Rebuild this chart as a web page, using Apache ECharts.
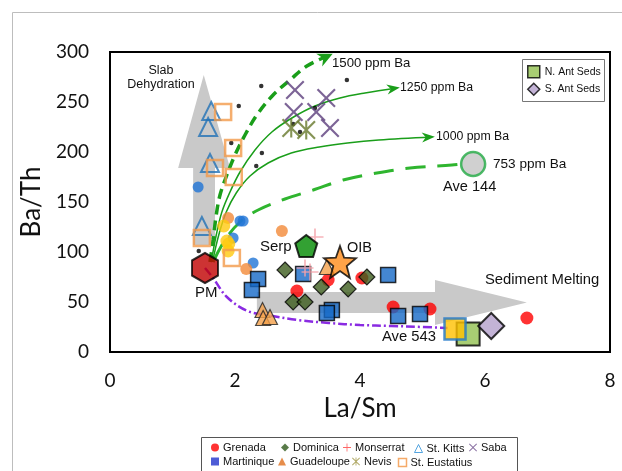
<!DOCTYPE html>
<html><head><meta charset="utf-8">
<script src="https://cdn.jsdelivr.net/npm/echarts@6/dist/echarts.min.js"></script>
<style>html,body{margin:0;padding:0;background:#fff}#c{width:622px;height:471px}</style>
</head><body><div id="c"></div>
<script>
// ---------- tick labels ----------
const xTicks = [0, 2, 4, 6, 8];
const yTicks = [0, 50, 100, 150, 200, 250, 300];

// ---------- island data [La/Sm, Ba/Th] ----------
const grenada     = [[2.99,61],[3.49,72],[4.03,74],[4.53,45],[5.12,43],[6.67,34]];
const dominica    = [[2.80,82],[3.38,65],[3.81,63],[2.93,50],[3.12,50],[4.11,75]];
const monserrat   = [[3.28,115],[3.12,84],[3.20,80]];
const stKitts     = [[1.62,241],[1.57,225],[1.60,189],[1.47,126]];
const saba        = [[2.96,262],[3.46,254],[2.94,240],[3.30,240],[3.52,224]];
const nevis       = [[2.90,224],[3.14,222]];
const martinique  = [[2.37,73],[2.27,62],[3.09,78],[3.55,42],[3.47,39],[4.45,77],[4.61,36],[4.96,38]];
const guadeloupe  = [[2.44,42],[2.45,34],[2.56,35],[3.47,85]];
const stEustatius = [[1.81,240],[1.97,204],[1.68,184],[1.98,175],[1.47,114],[1.95,94]];
const blackDots   = [[2.42,266],[2.06,246],[3.79,272],[1.94,209],[2.43,199],[2.34,186],[3.28,244],[2.93,228],[3.04,220],[1.42,101]];
const blueDots    = [[1.41,165],[2.08,131],[2.13,131],[1.97,114],[2.29,89]];
const orangeDots  = [[1.89,134],[2.75,121],[2.18,83]];
const yellowDots  = [[1.82,126],[1.87,111],[1.90,108],[1.89,101]];

// ---------- end members ----------
const pm      = [[1.52,84]];
const serp    = [[3.14,106]];
const oib     = [[3.68,90]];
const ave144  = [[5.81,188]];
const ave543  = [[5.52,23]];
const nAntSeds= [[5.73,18]];
const sAntSeds= [[6.10,26]];

// ---------- mixing curves ----------
const curve1500 = [[1.60,90],[1.65,112],[1.70,137],[1.76,157],[1.87,177],[2.00,197],[2.16,217],[2.35,237],[2.61,257],[2.88,272],[3.15,286],[3.52,297]];
const curve1250 = [[1.62,90],[1.70,117],[1.79,140],[1.92,160],[2.08,180],[2.32,202],[2.59,220],[2.91,234],[3.28,246],[3.68,254],[4.08,259],[4.59,264]];
const curve1000 = [[1.64,90],[1.74,117],[1.86,140],[2.02,159],[2.24,176],[2.53,189],[2.90,199],[3.35,205],[3.80,209],[4.30,212],[5.15,215]];
const curve753  = [[1.65,90],[1.84,112],[2.08,130],[2.37,142],[2.80,153],[3.25,162],[3.73,172],[4.27,179],[4.80,184],[5.47,187],[5.62,188]];
const curveSed  = [[1.52,84],[1.65,74],[1.87,55],[2.20,41],[2.60,36],[3.00,32],[3.50,29],[4.00,27],[4.50,26],[5.00,25],[5.40,24]];

// ---------- broad gray process arrows (data units) ----------
const slabArrow = [[1.33,107],[1.68,107],[1.68,184],[1.92,184],[1.50,277],[1.09,184],[1.33,184]];
const sedArrow  = [[2.35,60],[5.20,60],[5.20,72],[6.67,49.5],[5.20,27],[5.20,39],[2.35,39]];

// ---------- symbols ----------
const plusPath  = 'path://M4.5,0H5.5V4.5H10V5.5H5.5V10H4.5V5.5H0V4.5H4.5Z';
const crossPath = 'path://M0,0.8L0.8,0L5,4.2L9.2,0L10,0.8L5.8,5L10,9.2L9.2,10L5,5.8L0.8,10L0,9.2L4.2,5Z';
const starAstPath = 'path://M0,0.8L0.8,0L5,4.2L9.2,0L10,0.8L5.8,5L10,9.2L9.2,10L5,5.8L0.8,10L0,9.2L4.2,5Z M4.45,0H5.55V10H4.45Z';
const hexPath   = 'path://M5,0L9.33,2.5L9.33,7.5L5,10L0.67,7.5L0.67,2.5Z';
const pentPath  = 'path://M5,0L10,3.8L8.1,10L1.9,10L0,3.8Z';
function starPath(){let s='path://';for(let i=0;i<10;i++){const r=i%2?2.1:5;const a=-Math.PI/2+i*Math.PI/5;s+=(i?'L':'M')+(5+r*Math.cos(a)).toFixed(3)+','+(5+r*Math.sin(a)).toFixed(3);}return s+'Z';}

const chart = echarts.init(document.getElementById('c'));

function sc(name, data, symbol, size, style, z){
  return {name, type:'scatter', data, symbol, symbolSize:size, itemStyle:style, z:z||5, silent:true};
}
function curve(data, color, width, type, z){
  return {type:'line', data, smooth:0.35, showSymbol:false, symbol:'none', lineStyle:{color, width, type, cap:'butt'}, z:z||3, silent:true};
}

const arrowHeads = [
  {c:curve1500, color:'#1a9e1a', L:15, W:7},
  {c:curve1250, color:'#1a9e1a', L:13, W:5},
  {c:curve1000, color:'#1a9e1a', L:13, W:5}
];

const txt = (x,y,t,fs,align)=>({type:'text', x, y, style:{text:t, font:`${fs}px "Liberation Sans", Arial, sans-serif`, fill:'#111', align:align||'left', verticalAlign:'middle'}, z:50});

const option = {
  animation:false,
  backgroundColor:'#fff',
  grid:{left:110, top:52, width:500, height:300, show:true, borderColor:'#000', borderWidth:2},
  xAxis:{type:'value', min:xTicks[0], max:xTicks[xTicks.length-1], interval:xTicks[1]-xTicks[0],
    axisLine:{show:true, onZero:false, lineStyle:{color:'#000', width:2}}, axisTick:{show:false}, splitLine:{show:false},
    axisLabel:{fontFamily:'Lato', fontSize:19, color:'#111', margin:19},
    name:'La/Sm', nameLocation:'middle', nameGap:44, nameTextStyle:{fontFamily:'Lato', fontSize:26, color:'#111'}},
  yAxis:{type:'value', min:yTicks[0], max:yTicks[yTicks.length-1], interval:yTicks[1]-yTicks[0],
    axisLine:{show:true, onZero:false, lineStyle:{color:'#000', width:2}}, axisTick:{show:false}, splitLine:{show:false},
    axisLabel:{fontFamily:'Lato', fontSize:19, color:'#111', margin:21},
    name:'Ba/Th', nameLocation:'middle', nameGap:46, nameRotate:90, nameTextStyle:{fontFamily:'Lato', fontSize:26, color:'#111'}},
  legend:[
    ...[
      {n:'Grenada', x:211, y:449, icon:'circle', st:{color:'#ff0000', borderWidth:0}},
      {n:'Dominica', x:281, y:449, icon:'diamond', st:{color:'#2f5a1c', borderWidth:0}},
      {n:'Monserrat', x:343, y:449, icon:plusPath, st:{color:'#ff4040', borderWidth:0}},
      {n:'St. Kitts', x:412, y:449, icon:'triangle', st:{color:'none', borderColor:'#2a8fd8', borderWidth:1}},
      {n:'Saba', x:469, y:449, icon:crossPath, st:{color:'#6a4a8a', borderWidth:0}},
      {n:'Martinique', x:211, y:463, icon:'rect', st:{color:'#2233cc', borderWidth:0}},
      {n:'Guadeloupe', x:278, y:463, icon:'triangle', st:{color:'#e0701e', borderWidth:0}},
      {n:'Nevis', x:352, y:463, icon:starAstPath, st:{color:'#9c9440', borderWidth:0}},
      {n:'St. Eustatius', x:396, y:463, icon:'rect', st:{color:'none', borderColor:'#f29544', borderWidth:1.5}}
    ].map(o=>({left:o.x, top:o.y-7, padding:0, itemWidth:8, itemHeight:8, itemGap:0, selectedMode:false,
      textStyle:{fontFamily:'"Liberation Sans", Arial', fontSize:11, color:'#111', padding:[0,0,0,-1]},
      data:[{name:o.n, icon:o.icon, itemStyle:o.st}]})),
    {left:527, top:65, orient:'vertical', padding:0, itemWidth:12, itemHeight:12, itemGap:4, selectedMode:false,
      textStyle:{fontFamily:'"Liberation Sans", Arial', fontSize:10.5, color:'#111'},
      data:[{name:'N. Ant Seds', icon:'rect', itemStyle:{color:'#92c050', borderColor:'#000', borderWidth:1.5}},
            {name:'S. Ant Seds', icon:'diamond', itemStyle:{color:'#b4a0cc', borderColor:'#000', borderWidth:1.5}}]}
  ],
  graphic:[
    {type:'rect', shape:{x:12.5, y:12.5, width:700, height:600}, style:{fill:'none', stroke:'#bdbdbd', lineWidth:1}, z:-10, silent:true},
    {type:'rect', shape:{x:201.5, y:437.5, width:316, height:50}, style:{fill:'none', stroke:'#555', lineWidth:1}, z:-5, silent:true},
    {type:'rect', shape:{x:522.5, y:59.5, width:82, height:42}, style:{fill:'#fff', stroke:'#777', lineWidth:1}, z:1, silent:true},
    {type:'text', x:161, y:78, style:{text:'Slab\nDehydration', font:'12.5px "Liberation Sans", Arial', fill:'#111', align:'center', verticalAlign:'middle', lineHeight:14}, z:50},
    txt(332,63,'1500 ppm Ba',13.2),
    txt(400,88,'1250 ppm Ba',12.3),
    txt(436,137,'1000 ppm Ba',12.3),
    txt(493,164,'753 ppm Ba',13.6),
    txt(443,187,'Ave 144',14.6),
    txt(260,247,'Serp',15),
    txt(347,248,'OIB',14.5),
    txt(195,293,'PM',15),
    txt(485,280,'Sediment Melting',14.8),
    txt(382,337,'Ave 543',14.8)
  ],
  series:[
    {type:'custom', data:[[0],[1]], z:1, silent:true, clip:false,
      renderItem:(p,api)=>{const poly=[slabArrow,sedArrow][p.dataIndex];return {type:'polygon', shape:{points:poly.map(q=>api.coord(q))}, style:{fill:'#c9c9c9'}};}},
    curve(curveSed,'#8a2be2',2.5,[9,3,2,3],3),
    curve(curve753,'#2fb52f',3,[20,12],3),
    curve(curve1000,'#1a9e1a',1.5,'solid',3),
    curve(curve1250,'#1a9e1a',1.5,'solid',3),
    curve(curve1500,'#1a9e1a',3.5,[10,6],3),
    {type:'custom', data:[[0],[1],[2]], z:3, silent:true, clip:false,
      renderItem:(p,api)=>{const a=arrowHeads[p.dataIndex];const n=a.c.length;const e=api.coord(a.c[n-1]);const b=api.coord(a.c[n-2]);
        let dx=e[0]-b[0],dy=e[1]-b[1];const len=Math.hypot(dx,dy);dx/=len;dy/=len;const nx=-dy,ny=dx;
        const tip=[e[0]+dx*3,e[1]+dy*3];const base=[tip[0]-dx*a.L,tip[1]-dy*a.L];const notch=[tip[0]-dx*a.L*0.7,tip[1]-dy*a.L*0.7];
        return {type:'polygon', shape:{points:[tip,[base[0]+nx*a.W,base[1]+ny*a.W],notch,[base[0]-nx*a.W,base[1]-ny*a.W]]}, style:{fill:a.color}};}},
    sc('', blackDots, 'circle', 4.5, {color:'#000'}, 4),
    sc('', blueDots, 'circle', 11, {color:'#1f74d6'}, 4),
    sc('', orangeDots, 'circle', 12, {color:'#f28a38'}, 4),
    sc('', yellowDots, 'circle', 13, {color:'#ffc90e'}, 4),
    sc('St. Kitts', stKitts, 'triangle', 18, {color:'rgba(0,0,0,0)', borderColor:'#2272b6', borderWidth:2}, 5),
    sc('St. Eustatius', stEustatius, 'rect', 16, {color:'rgba(0,0,0,0)', borderColor:'#f39a4a', borderWidth:2.5}, 5),
    sc('Saba', saba, crossPath, 19, {color:'#5b3d7c'}, 5),
    sc('Nevis', nevis, starAstPath, 19, {color:'#66782a'}, 5),
    sc('Grenada', grenada, 'circle', 13, {color:'#ff0000'}, 6),
    sc('Dominica', dominica, 'diamond', 16, {color:'#3d5c1e', borderColor:'#000', borderWidth:1.2}, 6),
    sc('Martinique', martinique, 'rect', 15, {color:'#1569c7', borderColor:'#000', borderWidth:1.5}, 6),
    sc('Guadeloupe', guadeloupe, 'triangle', 15, {color:'#f4a04a', borderColor:'#222', borderWidth:1.2}, 6),
    sc('Monserrat', monserrat, plusPath, 17, {color:'#f4a0a8'}, 7),
    sc('PM', pm, hexPath, [26,30], {color:'#c00000', borderColor:'#000', borderWidth:2}, 8),
    sc('Serp', serp, pentPath, 22, {color:'#008a00', borderColor:'#000', borderWidth:2}, 8),
    sc('OIB', oib, starPath(), 32, {color:'#ff8c1a', borderColor:'#000', borderWidth:1.8}, 8),
    sc('Ave 144', ave144, 'circle', 24, {color:'#c4c4c4', borderColor:'#22aa44', borderWidth:2.5}, 8),
    sc('N. Ant Seds', nAntSeds, 'rect', 23, {color:'#92c050', borderColor:'#000', borderWidth:2}, 8),
    sc('Ave 543', ave543, 'rect', 21, {color:'#ffc000', borderColor:'#1f77c8', borderWidth:2.5}, 9),
    sc('S. Ant Seds', sAntSeds, 'diamond', 26, {color:'#b4a0cc', borderColor:'#000', borderWidth:2}, 8)
  ]
};
chart.setOption(option);
</script></body></html>
